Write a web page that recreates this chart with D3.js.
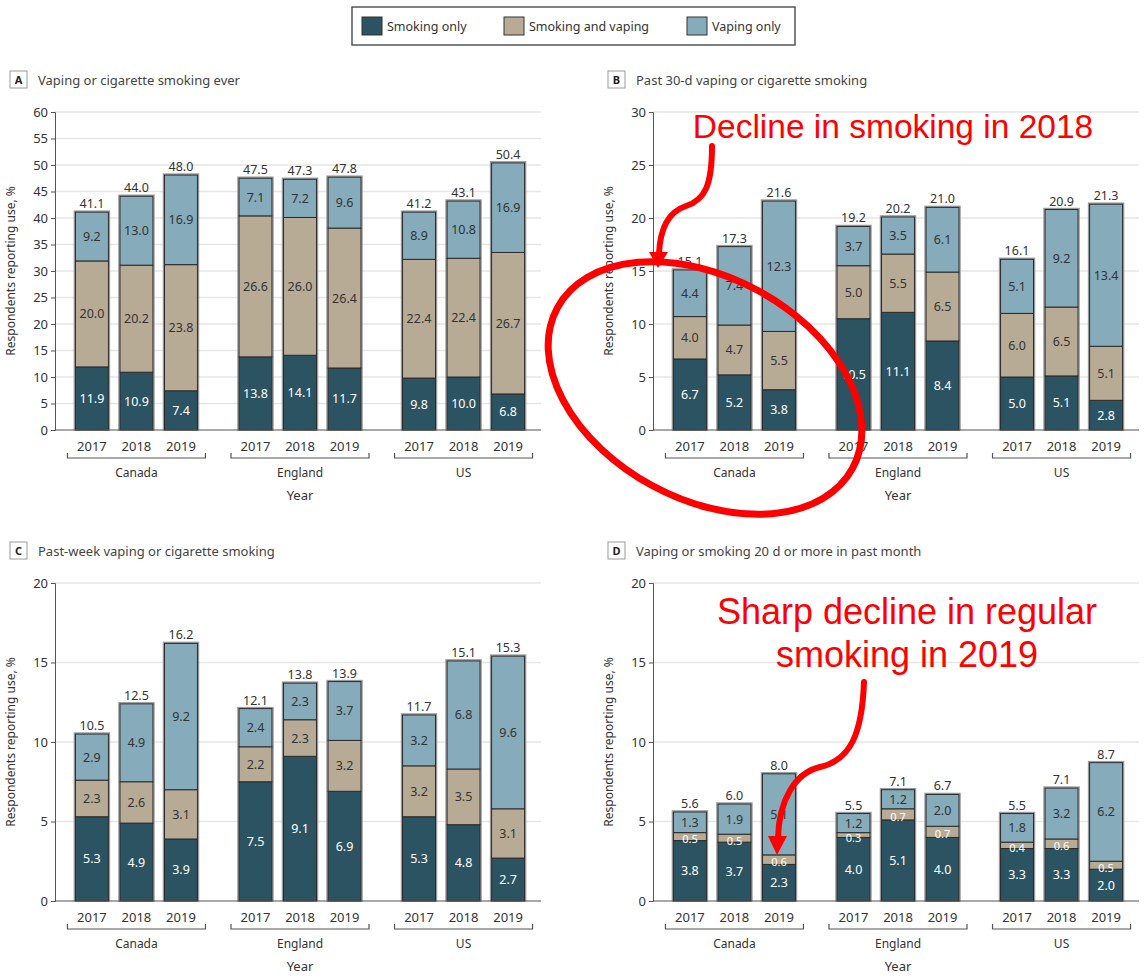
<!DOCTYPE html>
<html>
<head>
<meta charset="utf-8">
<script src="https://cdn.jsdelivr.net/npm/d3@7"></script>
<style>
  body { margin: 0; background: #fff; }
  svg { display: block; }
  text { font-family: "Noto Sans", "DejaVu Sans", sans-serif; }
  .note { font-family: "Liberation Sans", Arial, sans-serif; }
</style>
</head>
<body>
<div id="chart"></div>
<script>
var countries = ["Canada", "England", "US"];
var years = ["2017", "2018", "2019"];
var seriesNames = ["Smoking only", "Smoking and vaping", "Vaping only"];
var seriesColors = ["#2b5361", "#b8ab96", "#86abbb"];

// values per bar: Canada 2017-2019, England 2017-2019, US 2017-2019
var everSmoking = [11.9, 10.9, 7.4, 13.8, 14.1, 11.7, 9.8, 10.0, 6.8];
var everBoth    = [20.0, 20.2, 23.8, 26.6, 26.0, 26.4, 22.4, 22.4, 26.7];
var everVaping  = [9.2, 13.0, 16.9, 7.1, 7.2, 9.6, 8.9, 10.8, 16.9];
var everTotal   = [41.1, 44.0, 48.0, 47.5, 47.3, 47.8, 41.2, 43.1, 50.4];

var monthSmoking = [6.7, 5.2, 3.8, 10.5, 11.1, 8.4, 5.0, 5.1, 2.8];
var monthBoth    = [4.0, 4.7, 5.5, 5.0, 5.5, 6.5, 6.0, 6.5, 5.1];
var monthVaping  = [4.4, 7.4, 12.3, 3.7, 3.5, 6.1, 5.1, 9.2, 13.4];
var monthTotal   = [15.1, 17.3, 21.6, 19.2, 20.2, 21.0, 16.1, 20.9, 21.3];

var weekSmoking = [5.3, 4.9, 3.9, 7.5, 9.1, 6.9, 5.3, 4.8, 2.7];
var weekBoth    = [2.3, 2.6, 3.1, 2.2, 2.3, 3.2, 3.2, 3.5, 3.1];
var weekVaping  = [2.9, 4.9, 9.2, 2.4, 2.3, 3.7, 3.2, 6.8, 9.6];
var weekTotal   = [10.5, 12.5, 16.2, 12.1, 13.8, 13.9, 11.7, 15.1, 15.3];

var regularSmoking = [3.8, 3.7, 2.3, 4.0, 5.1, 4.0, 3.3, 3.3, 2.0];
var regularBoth    = [0.5, 0.5, 0.6, 0.3, 0.7, 0.7, 0.4, 0.6, 0.5];
var regularVaping  = [1.3, 1.9, 5.1, 1.2, 1.2, 2.0, 1.8, 3.2, 6.2];
var regularTotal   = [5.6, 6.0, 8.0, 5.5, 7.1, 6.7, 5.5, 7.1, 8.7];

var panels = [
  {letter: "A", title: "Vaping or cigarette smoking ever", smoking: everSmoking, both: everBoth, vaping: everVaping, total: everTotal, yMax: 60, yStep: 5, left: 55, top: 112},
  {letter: "B", title: "Past 30-d vaping or cigarette smoking", smoking: monthSmoking, both: monthBoth, vaping: monthVaping, total: monthTotal, yMax: 30, yStep: 5, left: 653, top: 112},
  {letter: "C", title: "Past-week vaping or cigarette smoking", smoking: weekSmoking, both: weekBoth, vaping: weekVaping, total: weekTotal, yMax: 20, yStep: 5, left: 55, top: 583},
  {letter: "D", title: "Vaping or smoking 20 d or more in past month", smoking: regularSmoking, both: regularBoth, vaping: regularVaping, total: regularTotal, yMax: 20, yStep: 5, left: 653, top: 583}
];

var W = 1144, H = 977;
var plotW = 486, plotH = 318;
var keys = ["smoking", "both", "vaping"];

var svg = d3.select("#chart").append("svg").attr("width", W).attr("height", H);

var xCountry = d3.scaleBand().domain(countries).range([0, 490]).paddingInner(0.254).paddingOuter(0.125);
var xYear = d3.scaleBand().domain(years).range([0, xCountry.bandwidth()]).paddingInner(0.26).paddingOuter(0);

function drawPanel(p){
  var g = svg.append("g").attr("transform", "translate(" + p.left + "," + p.top + ")");
  var y = d3.scaleLinear().domain([0, p.yMax]).range([plotH, 0]);
  var ticks = d3.range(0, p.yMax + 0.001, p.yStep);

  //panel header
  var head = svg.append("g").attr("transform", "translate(" + (p.left - 45) + "," + (p.top - 41) + ")");
  head.append("rect").attr("width", 17).attr("height", 17).attr("fill", "#fff").attr("stroke", "#999").attr("stroke-width", 1);
  head.append("text").attr("x", 8.5).attr("y", 13).attr("text-anchor", "middle").attr("font-size", 11).attr("font-weight", "bold").attr("fill", "#222").text(p.letter);
  head.append("text").attr("x", 28).attr("y", 13.5).attr("font-size", 13).attr("fill", "#444").text(p.title);

  //gridlines
  g.append("g").selectAll("line").data(ticks.filter(function(d){return d > 0})).enter().append("line")
    .attr("x1", 0).attr("x2", plotW).attr("y1", y).attr("y2", y)
    .attr("stroke", "#e6e6e6").attr("stroke-width", 1.5);

  //y axis
  var ax = g.append("g").call(d3.axisLeft(y).tickValues(ticks).tickSize(4).tickPadding(3));
  ax.select(".domain").attr("stroke", "#555");
  ax.selectAll(".tick line").attr("stroke", "#555");
  ax.selectAll(".tick text").attr("font-size", 13).attr("fill", "#333").style("font-family", "Noto Sans, sans-serif");

  g.append("text").attr("transform", "translate(" + (-40) + "," + (plotH / 2) + ") rotate(-90)")
    .attr("text-anchor", "middle").attr("font-size", 12).attr("fill", "#333").text("Respondents reporting use, %");

  //stacked bars
  var rows = [];
  for(var i = 0; i < 9; i++){
    rows.push({country: countries[Math.floor(i / 3)], year: years[i % 3], smoking: p.smoking[i], both: p.both[i], vaping: p.vaping[i], total: p.total[i]});
  }
  var stacked = d3.stack().keys(keys)(rows);
  function bx(d){ return xCountry(d.country) + xYear(d.year); }
  var bw = xYear.bandwidth();

  var bars = g.append("g");
  bars.selectAll("rect.outline").data(rows).enter().append("rect").classed("outline", true)
    .attr("x", function(d){return bx(d) - 1}).attr("width", bw + 2)
    .attr("y", function(d){return y(d.smoking + d.both + d.vaping) - 1})
    .attr("height", function(d){return plotH - y(d.smoking + d.both + d.vaping) + 1})
    .attr("fill", "none").attr("stroke", "#999").attr("stroke-width", 1.5);

  stacked.forEach(function(layer, li){
    bars.append("g").selectAll("rect").data(layer).enter().append("rect")
      .attr("x", function(d){return bx(d.data)}).attr("width", bw)
      .attr("y", function(d){return y(d[1])}).attr("height", function(d){return y(d[0]) - y(d[1])})
      .attr("fill", seriesColors[li]).attr("stroke", "#2a2a2a").attr("stroke-width", 1);
  });

  //segment labels (thin segments: small white label, nudged down)
  stacked.forEach(function(layer, li){
    g.append("g").selectAll("text").data(layer).enter().append("text")
      .attr("x", function(d){return bx(d.data) + bw / 2})
      .attr("y", function(d){return y((d[0] + d[1]) / 2) + (d[1] - d[0] < 1 ? 6.5 : 4.5)})
      .attr("text-anchor", "middle")
      .attr("font-size", function(d){return d[1] - d[0] < 1 ? 11 : 12.5})
      .attr("fill", function(d){return (li == 0 || d[1] - d[0] < 1) ? "#fff" : "#333"})
      .text(function(d){return (d[1] - d[0]).toFixed(1)});
  });

  //totals
  g.append("g").selectAll("text").data(rows).enter().append("text")
    .attr("x", function(d){return bx(d) + bw / 2})
    .attr("y", function(d){return y(d.smoking + d.both + d.vaping) - 4})
    .attr("text-anchor", "middle").attr("font-size", 12.5).attr("fill", "#333")
    .text(function(d){return d.total.toFixed(1)});

  //x baseline
  g.append("line").attr("x1", 0).attr("x2", plotW).attr("y1", plotH).attr("y2", plotH).attr("stroke", "#555").attr("stroke-width", 1.2);

  //year labels
  g.append("g").selectAll("text").data(rows).enter().append("text")
    .attr("x", function(d){return bx(d) + bw / 2}).attr("y", plotH + 21)
    .attr("text-anchor", "middle").attr("font-size", 13).attr("fill", "#333").text(function(d){return d.year});

  //country brackets
  var br = g.append("g").selectAll("g").data(countries).enter().append("g");
  br.append("path").attr("d", function(c){
      var x0 = xCountry(c) - 8, x1 = xCountry(c) + xCountry.bandwidth() + 8, yy = plotH + 28;
      return "M" + x0 + "," + (yy - 5) + "V" + yy + "H" + x1 + "V" + (yy - 5);
    }).attr("fill", "none").attr("stroke", "#555").attr("stroke-width", 1.2);
  br.append("text").attr("x", function(c){return xCountry(c) + xCountry.bandwidth() / 2}).attr("y", plotH + 47)
    .attr("text-anchor", "middle").attr("font-size", 12).attr("fill", "#333").text(function(c){return c});

  g.append("text").attr("x", xCountry("England") + xCountry.bandwidth() / 2).attr("y", plotH + 70)
    .attr("text-anchor", "middle").attr("font-size", 13).attr("fill", "#333").text("Year");
}

panels.forEach(drawPanel);

//legend
var leg = svg.append("g").attr("transform", "translate(352,7)");
leg.append("rect").attr("width", 443).attr("height", 38).attr("fill", "#fff").attr("stroke", "#555").attr("stroke-width", 1.5);
var legX = [10, 152, 335];
seriesNames.forEach(function(name, i){
  var li = leg.append("g").attr("transform", "translate(" + legX[i] + ",10)");
  li.append("rect").attr("width", 20).attr("height", 18).attr("fill", seriesColors[i]).attr("stroke", "#333").attr("stroke-width", 1);
  li.append("text").attr("x", 25).attr("y", 14).attr("font-size", 12.5).attr("fill", "#333").text(name);
});

//annotations
var red = "#ff0000";
var ann = svg.append("g");
ann.append("text").attr("class", "note").attr("x", 893).attr("y", 138).attr("text-anchor", "middle").attr("font-size", 33.5).attr("fill", red).text("Decline in smoking in 2018");
ann.append("path").attr("d", "M712,146 C712,185 705,200 686,206 C668,212 660,228 659,254")
  .attr("fill", "none").attr("stroke", red).attr("stroke-width", 6).attr("stroke-linecap", "round");
ann.append("path").attr("d", "M649,252 L668,252 L658,268 Z").attr("fill", red);
ann.append("ellipse").attr("cx", 705).attr("cy", 388).attr("rx", 168).attr("ry", 111)
  .attr("transform", "rotate(28.5,705,388)").attr("fill", "none").attr("stroke", red).attr("stroke-width", 7);

ann.append("text").attr("class", "note").attr("x", 907).attr("y", 624).attr("text-anchor", "middle").attr("font-size", 36).attr("fill", red).text("Sharp decline in regular");
ann.append("text").attr("class", "note").attr("x", 907).attr("y", 667).attr("text-anchor", "middle").attr("font-size", 36).attr("fill", red).text("smoking in 2019");
ann.append("path").attr("d", "M864,682 C862,735 850,760 820,767 C795,773 779,800 778,838")
  .attr("fill", "none").attr("stroke", red).attr("stroke-width", 6).attr("stroke-linecap", "round");
ann.append("path").attr("d", "M768,836 L787,836 L777,855 Z").attr("fill", red);
</script>
</body>
</html>
